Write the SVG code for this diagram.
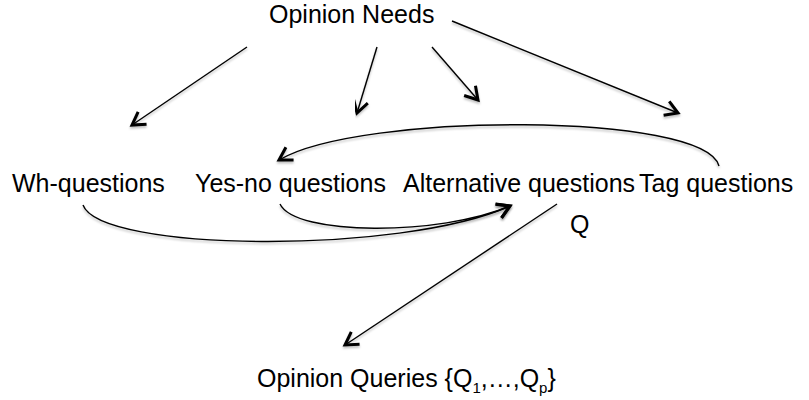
<svg xmlns="http://www.w3.org/2000/svg" width="809" height="400" viewBox="0 0 809 400">
  <style>
    text { font-family: "Liberation Sans", Arial, sans-serif; font-size: 25px; fill: #000; }
    .sub { font-size: 15px; }
    .edge { fill: none; stroke: #000; stroke-width: 1.4; marker-end: url(#head); filter: url(#shadow); }
  </style>
  <defs>
    <marker id="head" markerUnits="userSpaceOnUse" markerWidth="20" markerHeight="20" refX="0" refY="0" viewBox="-12 -8 14 16" orient="auto">
      <path d="M -10 -6 L 0 0 L -10 6" fill="none" stroke="#000" stroke-width="2.4" stroke-linejoin="miter"/>
    </marker>
    <filter id="shadow" x="-10%" y="-10%" width="120%" height="130%">
      <feDropShadow dx="0" dy="2" stdDeviation="1" flood-color="#000" flood-opacity="0.25"/>
    </filter>
  </defs>

  <g id="opinion-needs"><text x="269" y="23">Opinion Needs</text></g>
  <g id="wh-questions"><text x="12" y="192">Wh-questions</text></g>
  <g id="yes-no-questions"><text x="195" y="192">Yes-no questions</text></g>
  <g id="alternative-questions"><text x="403" y="192">Alternative questions</text></g>
  <g id="tag-questions"><text x="639" y="192">Tag questions</text></g>
  <g id="q"><text x="570" y="233">Q</text></g>
  <g id="opinion-queries">
    <text x="257" y="387">Opinion Queries {Q<tspan class="sub" dy="6">1</tspan><tspan dy="-6">,…,Q</tspan><tspan class="sub" dy="6">p</tspan><tspan dy="-6">}</tspan></text>
  </g>

  <g id="connectors">
    <path class="edge" d="M 247 47 L 132 125"/>
    <path class="edge" d="M 377 47 L 357 113"/>
    <path class="edge" d="M 432 47 L 478 100"/>
    <path class="edge" d="M 452 21 L 678 113"/>
    <path class="edge" d="M 719 166 C 705 112, 360 112, 279 160"/>
    <path class="edge" d="M 83 205 C 100 252, 400 255, 510 206"/>
    <path class="edge" d="M 280 204 C 295 236, 440 236, 510 206"/>
    <path class="edge" d="M 557 204 L 345 345"/>
  </g>
</svg>
